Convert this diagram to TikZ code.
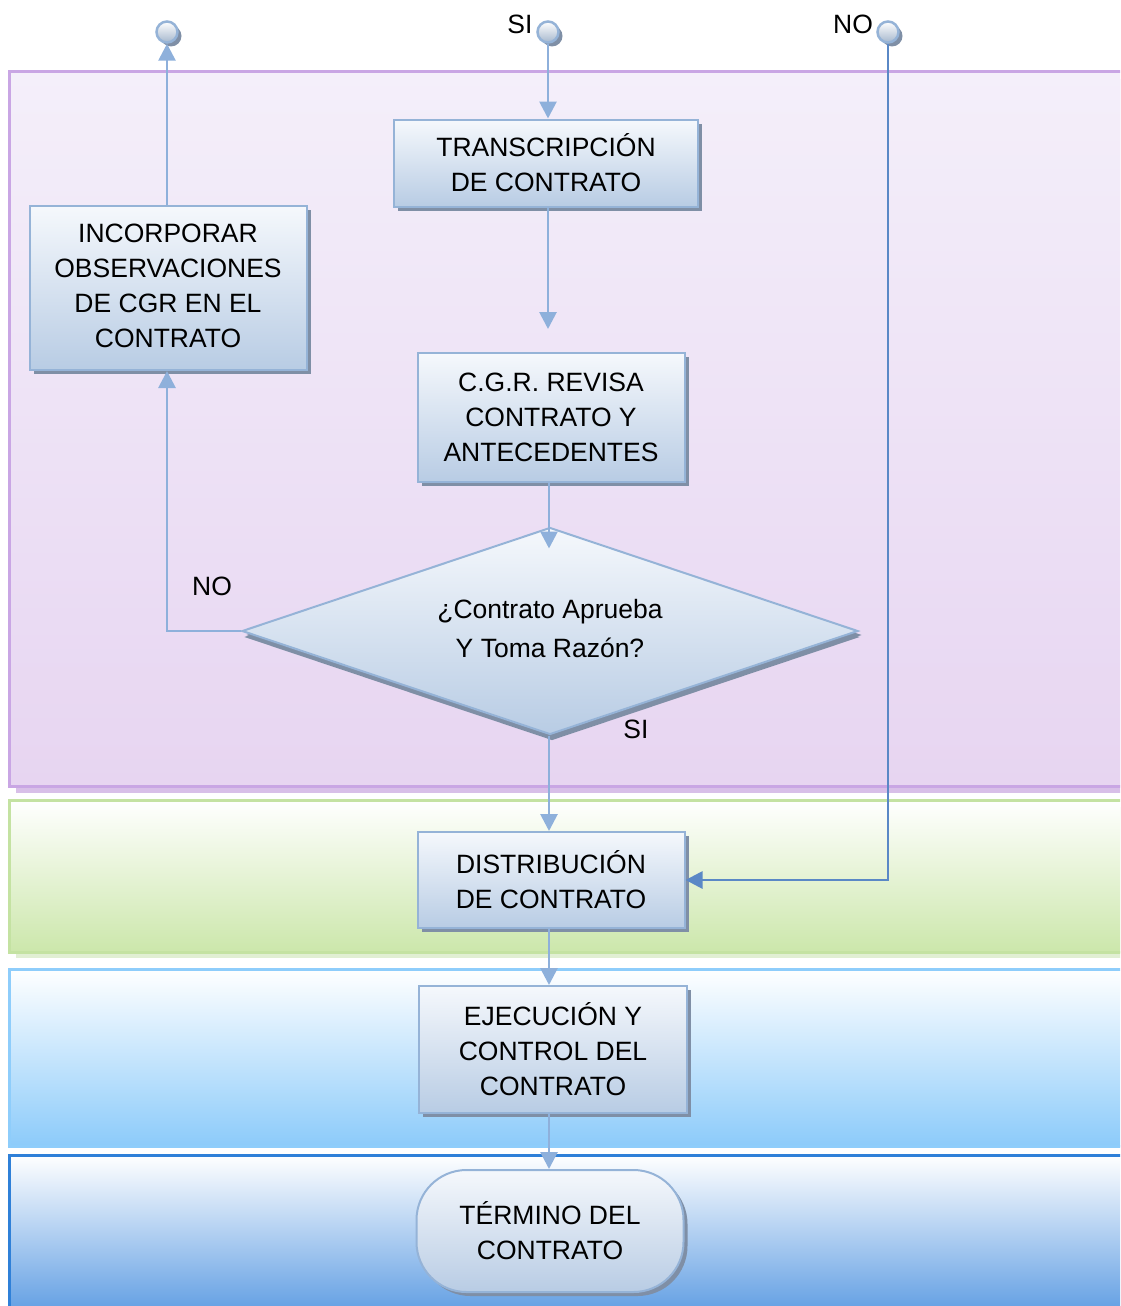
\documentclass[tikz,border=0pt]{standalone}
\usepackage{fontspec}
\setmainfont{Liberation Sans}
\usetikzlibrary{arrows.meta,shapes.geometric,shadows,calc}
\definecolor{boxline}{HTML}{95B3D7}
\definecolor{boxtop}{HTML}{F5F8FC}
\definecolor{boxbot}{HTML}{B8CCE4}
\definecolor{boxshadow}{HTML}{7F8FA6}
\definecolor{connc}{HTML}{8EB0DB}
\definecolor{conndark}{HTML}{5A88C6}
\definecolor{purpline}{HTML}{C9A6E4}
\definecolor{purptop}{HTML}{F4EFFA}
\definecolor{purpbot}{HTML}{E7D5F1}
\definecolor{purpshadow}{HTML}{D8BFE8}
\definecolor{greenline}{HTML}{C4E2A2}
\definecolor{greenbot}{HTML}{CCE7AB}
\definecolor{greenshadow}{HTML}{E1EFD3}
\definecolor{lbline}{HTML}{8ECDFB}
\definecolor{lbbot}{HTML}{8CCBFA}
\definecolor{dbline}{HTML}{2F80D8}
\definecolor{dbbot}{HTML}{5A9AE2}
\begin{document}
\begin{tikzpicture}[x=1pt,y=-1pt,
  txt/.style={font=\fontsize{26.5}{35}\selectfont, align=center, inner sep=0pt},
  proc/.style={txt, rectangle, draw=boxline, line width=2pt, top color=boxtop, bottom color=boxbot,
    drop shadow={shadow xshift=4pt, shadow yshift=-4pt, fill=boxshadow, opacity=1}},
  conn/.style={draw=connc, line width=2.8pt, -{Triangle[width=17pt,length=17pt]}},
  ball/.style={circle, draw=boxline, line width=2.5pt, minimum size=21pt, inner sep=0pt,
    top color=white, bottom color=boxbot!90!black,
    drop shadow={shadow xshift=4pt, shadow yshift=-4pt, fill=boxshadow, opacity=1}},
  band/.style={line width=3pt}
]
\clip (0,0) rectangle (1120,1306);
% bands
\fill[purpshadow] (16,79) rectangle (1140,793);
\draw[band, draw=purpline, top color=purptop, bottom color=purpbot] (9,72) rectangle (1140,786);
\fill[greenshadow] (16,807) rectangle (1140,958);
\draw[band, draw=greenline, top color=white, bottom color=greenbot] (9,800) rectangle (1140,952);
\draw[band, draw=lbline, top color=white, bottom color=lbbot] (9,969) rectangle (1140,1146);
\draw[band, draw=dbline, top color=white, bottom color=dbbot] (9,1155) rectangle (1140,1320);
% nodes
\node[proc, minimum width=304pt, minimum height=87pt] (trans) at (546,163) {TRANSCRIPCIÓN\\DE CONTRATO};
\node[proc, minimum width=277pt, minimum height=164pt] (incorp) at (168,288) {\raisebox{2.5pt}{\begin{tabular}{@{}c@{}}INCORPORAR\\OBSERVACIONES\\DE CGR EN EL\\CONTRATO\end{tabular}}};
\node[proc, minimum width=267pt, minimum height=129pt] (cgr) at (551,417.5) {C.G.R. REVISA\\CONTRATO Y\\ANTECEDENTES};
\node[proc, diamond, aspect=3, minimum width=616pt, minimum height=207pt,
  drop shadow={shadow xshift=2pt, shadow yshift=-6pt, fill=boxshadow, opacity=1}] (dia) at (550,631) {\raisebox{13pt}{\begin{tabular}{@{}c@{}}¿Contrato Aprueba\\[4pt]Y Toma Razón?\end{tabular}}};
\node[proc, minimum width=267pt, minimum height=96pt] (dist) at (551,880) {DISTRIBUCIÓN\\DE CONTRATO};
\node[proc, minimum width=268pt, minimum height=127pt] (ejec) at (553,1049.5) {EJECUCIÓN Y\\CONTROL DEL\\CONTRATO};
\node[proc, rounded corners=50pt, minimum width=267pt, minimum height=122pt] (term) at (550,1231) {TÉRMINO DEL\\CONTRATO};
% connectors
\draw[conn] (trans.south -| 548,0) coordinate (t1) -- (t1 |- cgr.north) [shorten >=23pt];
\draw[conn, shorten >=-22pt] (cgr.south -| 549,0) coordinate (c1) -- (c1 |- dia.north);
\draw[conn] (dia.west) -| (incorp.south -| 167,0);
\draw[conn] (dia.south -| 549,0) coordinate (d1) -- (d1 |- dist.north);
\draw[conn] (dist.south -| 549,0) coordinate (d2) -- (d2 |- ejec.north);
\draw[conn] (ejec.south -| 549,0) coordinate (e1) -- (e1 |- term.north);
% balls
\node[ball] (cL) at (167,32) {};
\node[ball] (cS) at (548,32) {};
\node[ball] (cN) at (888,32) {};
\draw[conn] (incorp.north -| cL.south) -- (cL.south);
\draw[conn] (cS.south) -- (cS.south |- trans.north);
\draw[conn, draw=conndark] (cN.south) |- (dist.east);
% labels
\node[txt] (lsi) at (520,24) {SI};
\node[txt] (lno) at (853,24) {NO};
\node[txt] (lno2) at (212,586) {NO};
\node[txt] (lsi2) at (636,729) {SI};
\end{tikzpicture}
\end{document}
